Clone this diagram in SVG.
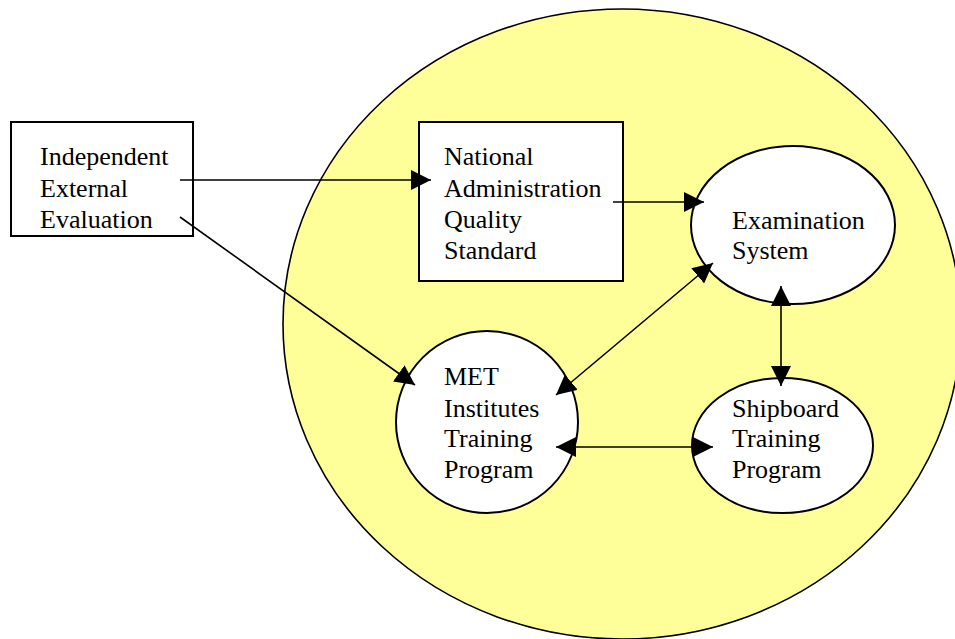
<svg xmlns="http://www.w3.org/2000/svg" width="955" height="639" viewBox="0 0 955 639">
<style>
text{font-family:'Liberation Serif','DejaVu Serif','Times New Roman',Times,serif;font-size:26px;fill:#000}
.node{fill:#fff;stroke:#000;stroke-width:2}
.conn{stroke:#000;stroke-width:1.6;fill:none}
</style>
<defs>
<marker id="ah" markerUnits="userSpaceOnUse" markerWidth="20" markerHeight="20" refX="20" refY="10" orient="auto-start-reverse" viewBox="0 0 20 20">
<path d="M0,0 L20,10 L0,20 z" fill="#000"/>
</marker>
</defs>
<rect width="955" height="639" fill="#fff"/>
<ellipse id="boundary" cx="622" cy="324" rx="339" ry="315" fill="#ffff99" stroke="#000" stroke-width="1.6"/>
<g id="independent" font-family="Liberation Serif, serif">
<rect class="node" x="11" y="122" width="182" height="114"/>
<text x="40" y="165">Independent</text>
<text x="40" y="197">External</text>
<text x="40" y="228">Evaluation</text>
</g>
<g id="national" font-family="Liberation Serif, serif">
<rect class="node" x="419" y="122" width="204" height="159"/>
<text x="444" y="165">National</text>
<text x="444" y="197">Administration</text>
<text x="444" y="228">Quality</text>
<text x="444" y="259">Standard</text>
</g>
<g id="examination" font-family="Liberation Serif, serif">
<ellipse class="node" cx="793" cy="225" rx="102" ry="79"/>
<text x="732" y="229">Examination</text>
<text x="732" y="259">System</text>
</g>
<g id="met" font-family="Liberation Serif, serif">
<ellipse class="node" cx="487" cy="422" rx="91" ry="91"/>
<text x="444" y="385">MET</text>
<text x="444" y="417">Institutes</text>
<text x="444" y="447">Training</text>
<text x="444" y="478">Program</text>
</g>
<g id="shipboard" font-family="Liberation Serif, serif">
<ellipse class="node" cx="782.5" cy="445.5" rx="90.5" ry="67.5"/>
<text x="732" y="417">Shipboard</text>
<text x="732" y="447">Training</text>
<text x="732" y="478">Program</text>
</g>
<g id="connectors">
<line class="conn" x1="180" y1="180" x2="431" y2="180" marker-end="url(#ah)"/>
<line class="conn" x1="180" y1="217" x2="415" y2="385" marker-end="url(#ah)"/>
<line class="conn" x1="613" y1="202" x2="704" y2="202" marker-end="url(#ah)"/>
<line class="conn" x1="556" y1="395" x2="713" y2="263" marker-start="url(#ah)" marker-end="url(#ah)"/>
<line class="conn" x1="781" y1="286" x2="781" y2="386" marker-start="url(#ah)" marker-end="url(#ah)"/>
<line class="conn" x1="556" y1="447" x2="713" y2="447" marker-start="url(#ah)" marker-end="url(#ah)"/>
</g>
</svg>
